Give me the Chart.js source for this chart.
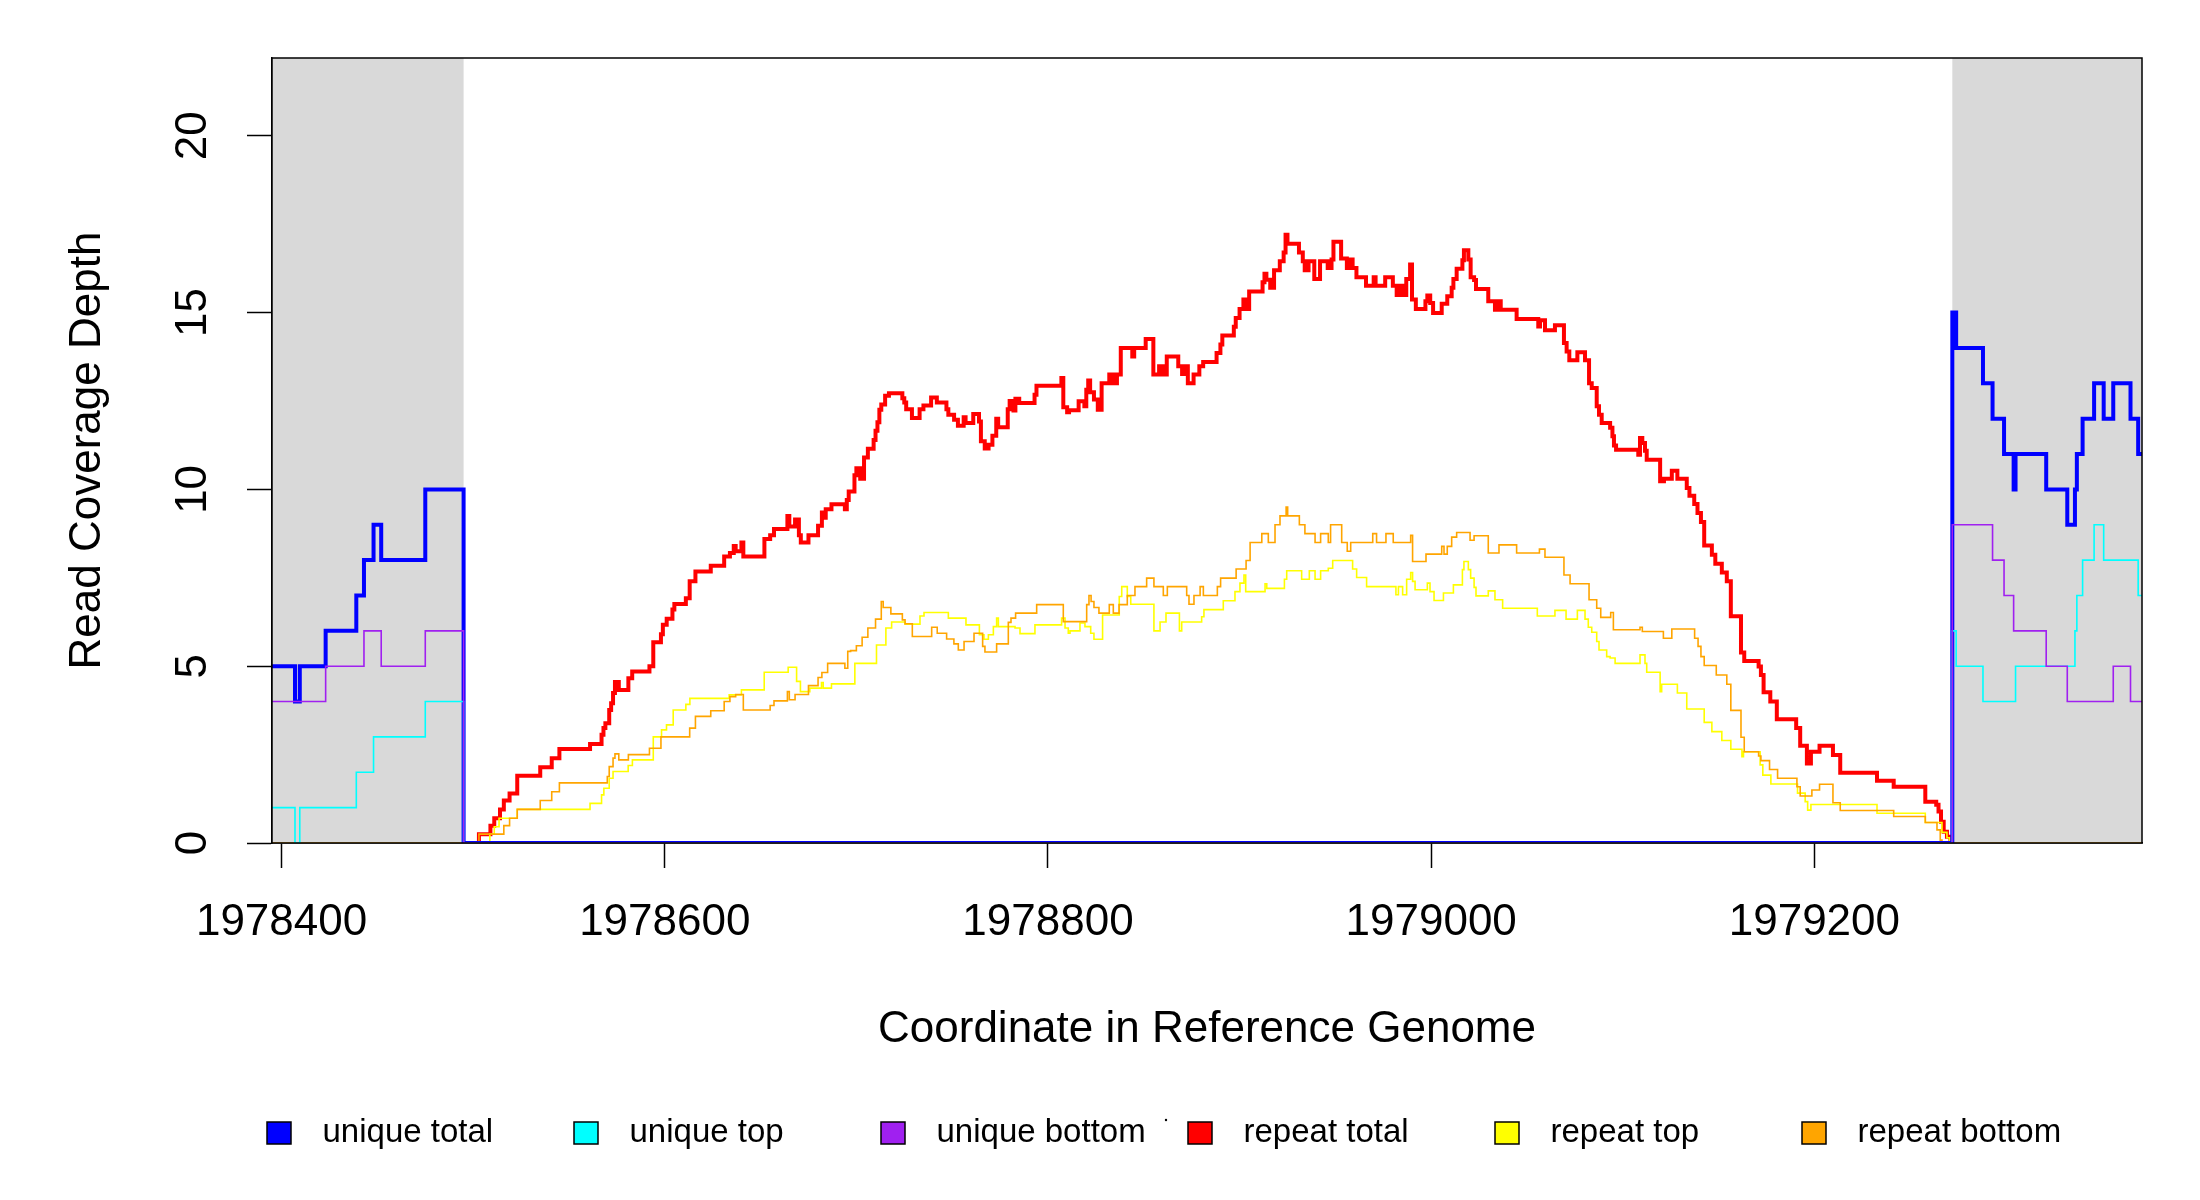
<!DOCTYPE html>
<html>
<head>
<meta charset="utf-8">
<title>Read Coverage Depth</title>
<script src="https://cdn.jsdelivr.net/npm/chart.js@4.4.1/dist/chart.umd.min.js"></script>
<style>
  html, body { margin: 0; padding: 0; background: #fff; }
  canvas { display: block; }
</style>
</head>
<body>
<canvas id="coverage" width="2200" height="1200"></canvas>
<script>
// axis setup
var xTicks = [1978400, 1978600, 1978800, 1979000, 1979200];
var yTicks = [0, 5, 10, 15, 20];
var xRange = [1978395, 1979371];
var yRange = [0, 22.2];
var shadedRegions = [[1978395, 1978495], [1979272, 1979371]];

var seriesNames = ["unique total", "unique top", "unique bottom", "repeat total", "repeat top", "repeat bottom"];
var seriesColors = ["#0000FF", "#00FFFF", "#A020F0", "#FF0000", "#FFFF00", "#FFA500"];

// each series: start position of a step and the depth from there on
var uniqueTotalPos = [1978395, 1978407, 1978409.5, 1978423, 1978439, 1978443, 1978448, 1978452, 1978475, 1978495,
  1979272, 1979274, 1979288, 1979293, 1979299, 1979304, 1979305, 1979321, 1979332, 1979336, 1979337, 1979340,
  1979346, 1979351, 1979356, 1979365, 1979369, 1979371];
var uniqueTotalDepth = [5, 4, 5, 6, 7, 8, 9, 8, 10, 0,
  15, 14, 13, 12, 11, 10, 11, 10, 9, 10, 11, 12,
  13, 12, 13, 12, 11, 11];

var uniqueTopPos = [1978395, 1978407, 1978409.5, 1978439, 1978448, 1978475, 1978495,
  1979272, 1979274, 1979288, 1979305, 1979336, 1979337, 1979340, 1979346, 1979351, 1979369, 1979371];
var uniqueTopDepth = [1, 0, 1, 2, 3, 4, 0,
  6, 5, 4, 5, 6, 7, 8, 9, 8, 7, 7];

var uniqueBottomPos = [1978395, 1978423, 1978443, 1978452, 1978475, 1978495,
  1979272, 1979293, 1979299, 1979304, 1979321, 1979332, 1979356, 1979365, 1979371];
var uniqueBottomDepth = [4, 5, 6, 5, 6, 0,
  9, 8, 7, 6, 5, 4, 5, 4, 4];

var repeatTotalPos = [1978495, 1978503, 1978509, 1978511, 1978514, 1978516, 1978519, 1978523, 1978535, 1978541,
  1978545, 1978561, 1978567, 1978568, 1978569, 1978571, 1978572, 1978573, 1978574, 1978576,
  1978581, 1978583, 1978592, 1978594, 1978598, 1978599, 1978601, 1978604, 1978605, 1978611,
  1978613, 1978616, 1978624, 1978631, 1978634, 1978636, 1978637, 1978640, 1978641, 1978652,
  1978655, 1978657, 1978664, 1978665, 1978668, 1978670, 1978671, 1978675, 1978680, 1978682,
  1978683, 1978684, 1978687, 1978694, 1978695, 1978696, 1978699, 1978700, 1978702, 1978704,
  1978706, 1978709, 1978710, 1978711, 1978712, 1978713, 1978715, 1978717, 1978724, 1978725,
  1978726, 1978729, 1978733, 1978735, 1978739, 1978742, 1978747, 1978748, 1978751, 1978753,
  1978756, 1978757, 1978761, 1978764, 1978765, 1978767, 1978769, 1978771, 1978773, 1978774,
  1978779, 1978780, 1978782, 1978783, 1978785, 1978793, 1978794, 1978807, 1978808, 1978810,
  1978811, 1978816, 1978819, 1978820, 1978821, 1978822, 1978824, 1978826, 1978828, 1978832,
  1978834, 1978836, 1978838, 1978844, 1978845, 1978851, 1978855, 1978858, 1978860, 1978862,
  1978868, 1978870, 1978871, 1978873, 1978876, 1978879, 1978881, 1978888, 1978890, 1978891,
  1978897, 1978898, 1978900, 1978902, 1978903, 1978905, 1978912, 1978913, 1978914, 1978916,
  1978918, 1978921, 1978923, 1978924, 1978925, 1978931, 1978933, 1978934, 1978936, 1978939,
  1978942, 1978946, 1978948, 1978949, 1978953, 1978956, 1978958, 1978959, 1978961, 1978966,
  1978970, 1978971, 1978976, 1978980, 1978982, 1978983, 1978985, 1978987, 1978989, 1978990,
  1978992, 1978997, 1978998, 1978999.5, 1979001, 1979005.5, 1979008.4, 1979010.7, 1979011.6, 1979013.3,
  1979016.3, 1979017.1, 1979019.4, 1979020.6, 1979022.4, 1979023.4, 1979029.8, 1979033.3, 1979035.1, 1979036.3,
  1979044.6, 1979055.9, 1979056.8, 1979059.4, 1979064.6, 1979069.3, 1979070.7, 1979072.1, 1979076.3, 1979080.3,
  1979082.4, 1979083.8, 1979086.4, 1979087.6, 1979089, 1979093.4, 1979094.6, 1979095.4, 1979096.5, 1979108.1,
  1979109, 1979110.2, 1979111.6, 1979112.5, 1979119.5, 1979121.5, 1979125.6, 1979128.5, 1979133.4, 1979134.8,
  1979137.3, 1979139, 1979140.8, 1979142.5, 1979146.5, 1979148.3, 1979151.7, 1979154.3, 1979156.4, 1979161.7,
  1979163.4, 1979170.9, 1979172.1, 1979173.5, 1979177, 1979180.4, 1979190.5, 1979192.6, 1979196.1, 1979198.2,
  1979202.7, 1979209.7, 1979213.5, 1979232.7, 1979241.4, 1979257.9, 1979263.6, 1979264.8, 1979266.1, 1979267.5,
  1979269.2, 1979271, 1979272];
var repeatTotalDepth = [0, 0.25, 0.49, 0.7, 0.95, 1.2, 1.4, 1.9, 2.14, 2.4,
  2.66, 2.8, 3.06, 3.25, 3.39, 3.76, 3.95, 4.24, 4.55, 4.33,
  4.66, 4.85, 5.0, 5.68, 5.9, 6.17, 6.34, 6.6, 6.76, 6.92,
  7.4, 7.68, 7.84, 8.1, 8.2, 8.4, 8.25, 8.5, 8.1, 8.6,
  8.7, 8.88, 9.25, 8.95, 9.15, 8.7, 8.5, 8.7, 8.97, 9.35,
  9.2, 9.44, 9.58, 9.44, 9.7, 9.94, 10.4, 10.6, 10.3, 10.9,
  11.15, 11.4, 11.66, 11.9, 12.25, 12.4, 12.65, 12.72, 12.58, 12.46,
  12.27, 12.02, 12.27, 12.37, 12.6, 12.46, 12.27, 12.11, 11.97, 11.8,
  12.04, 11.88, 12.13, 11.92, 11.36, 11.16, 11.26, 11.52, 12.0, 11.76,
  12.27, 12.5, 12.23, 12.56, 12.44, 12.68, 12.93, 13.15, 12.32, 12.18,
  12.24, 12.49, 12.35, 12.82, 13.08, 12.75, 12.54, 12.25, 13.0, 13.25,
  13.0, 13.25, 14.0, 13.76, 14.0, 14.25, 13.25, 13.48, 13.25, 13.76,
  13.48, 13.26, 13.48, 13.0, 13.25, 13.48, 13.6, 13.86, 14.1, 14.35,
  14.6, 14.85, 15.1, 15.37, 15.1, 15.6, 15.86, 16.1, 15.93, 15.7,
  16.2, 16.45, 16.7, 17.2, 16.95, 16.7, 16.45, 16.2, 16.45, 15.95,
  16.45, 16.26, 16.5, 17.0, 16.53, 16.26, 16.5, 16.26, 16.0, 15.76,
  16.0, 15.76, 16.0, 15.76, 15.5, 15.76, 15.5, 15.95, 16.36, 15.37,
  15.1, 15.32, 15.48, 15.27, 14.99, 15.25, 15.46, 15.7, 15.95, 16.24,
  16.48, 16.76, 16.5, 16.0, 15.92, 15.67, 15.32, 15.08, 15.32, 15.08,
  14.82, 14.61, 14.78, 14.5, 14.64, 14.14, 13.9, 13.65, 13.88, 13.65,
  13.0, 12.87, 12.35, 12.11, 11.88, 11.74, 11.5, 11.24, 11.12, 10.98,
  11.45, 11.31, 11.09, 10.84, 10.23, 10.3, 10.53, 10.3, 10.04, 9.82,
  9.59, 9.33, 9.08, 8.41, 8.15, 7.9, 7.65, 7.4, 6.41, 5.39,
  5.15, 4.99, 4.75, 4.26, 4.0, 3.5, 3.25, 2.75, 2.25, 2.58,
  2.75, 2.49, 1.99, 1.76, 1.59, 1.17, 1.08, 0.89, 0.6, 0.32,
  0.18, 0, 0];

var repeatTopPos = [1978495, 1978508.7, 1978511, 1978513.5, 1978523, 1978561, 1978567, 1978568.2, 1978571, 1978573,
  1978580.9, 1978583.1, 1978594, 1978598.3, 1978600.9, 1978604.4, 1978611, 1978613.1, 1978633.6, 1978640,
  1978651.9, 1978664.4, 1978668.8, 1978670.8, 1978675.7, 1978681.8, 1978682.7, 1978687, 1978699.2, 1978710.5,
  1978715.4, 1978718.4, 1978725.4, 1978733.2, 1978735.3, 1978748, 1978757.2, 1978764.2, 1978766.6, 1978768.9,
  1978771.5, 1978773.2, 1978774.1, 1978782.8, 1978785.4, 1978793.2, 1978807.1, 1978808.9, 1978810.6, 1978811.5,
  1978816.7, 1978819.3, 1978822.3, 1978824, 1978828.5, 1978837.2, 1978838.5, 1978841.4, 1978843.2, 1978855.3,
  1978858.5, 1978861.6, 1978868.6, 1978869.8, 1978880.2, 1978881.4, 1978891.5, 1978897.6, 1978900.2, 1978902.3,
  1978903.2, 1978913.3, 1978914.2, 1978923.4, 1978924.6, 1978932.4, 1978936.4, 1978939.4, 1978942.3, 1978946.3,
  1978948.6, 1978959, 1978961.1, 1978966.3, 1978981.6, 1978982.9, 1978985.1, 1978987.2, 1978989.3, 1978990.3,
  1978991.6, 1978998, 1978999.4, 1979001.5, 1979006.4, 1979011.6, 1979016.3, 1979017.1, 1979019.4, 1979020.6,
  1979022.4, 1979023.4, 1979029.8, 1979033.3, 1979037.3, 1979055.4, 1979064.6, 1979070.4, 1979076.3, 1979080.3,
  1979082, 1979083.8, 1979086.4, 1979087.6, 1979091.6, 1979093.4, 1979096, 1979109, 1979111.6, 1979112.5,
  1979119.5, 1979120.3, 1979128.5, 1979133.4, 1979142.5, 1979146.5, 1979151.7, 1979156.4, 1979162.2, 1979163,
  1979171.7, 1979173.1, 1979177.3, 1979191.2, 1979195.2, 1979196.5, 1979198.2, 1979232.7, 1979257.9, 1979266.6,
  1979269.2, 1979270.6, 1979272];
var repeatTopDepth = [0, 0.25, 0.46, 0.7, 0.95, 1.12, 1.36, 1.55, 1.83, 2.02,
  2.19, 2.35, 3.0, 3.2, 3.34, 3.76, 3.92, 4.09, 4.19, 4.33,
  4.83, 4.97, 4.57, 4.28, 4.38, 4.54, 4.38, 4.5, 5.08, 5.6,
  6.08, 6.25, 6.19, 6.42, 6.52, 6.36, 6.17, 5.89, 5.76, 5.89,
  6.12, 6.36, 6.12, 6.08, 5.92, 6.17, 6.36, 6.08, 5.93, 6.0,
  6.22, 6.12, 5.93, 5.76, 6.45, 6.97, 7.25, 6.97, 6.75, 6.0,
  6.25, 6.5, 6.0, 6.25, 6.4, 6.6, 6.85, 7.11, 7.35, 7.58,
  7.11, 7.33, 7.2, 7.46, 7.7, 7.46, 7.7, 7.46, 7.7, 7.77,
  7.99, 7.75, 7.51, 7.25, 7.02, 7.25, 7.02, 7.46, 7.65, 7.4,
  7.16, 7.35, 7.11, 6.86, 7.07, 7.3, 7.73, 7.96, 7.73, 7.49,
  7.23, 6.99, 7.13, 6.88, 6.64, 6.42, 6.58, 6.33, 6.58, 6.33,
  6.1, 5.96, 5.7, 5.46, 5.27, 5.23, 5.08, 5.32, 5.08, 4.83,
  4.28, 4.49, 4.24, 3.79, 3.41, 3.15, 2.9, 2.65, 2.44, 2.58,
  2.21, 1.92, 1.67, 1.41, 1.17, 0.93, 1.09, 0.84, 0.58, 0.3,
  0.15, 0, 0];

var repeatBottomPos = [1978395, 1978503, 1978516, 1978519, 1978523, 1978535, 1978541, 1978545, 1978570, 1978571,
  1978573, 1978574, 1978576, 1978581, 1978592, 1978598, 1978613, 1978616, 1978624, 1978631,
  1978634, 1978637, 1978641, 1978655, 1978657, 1978664, 1978665, 1978668, 1978675, 1978680,
  1978682, 1978685, 1978694, 1978695.5, 1978697, 1978700, 1978703, 1978706, 1978710, 1978713,
  1978714, 1978718, 1978724, 1978725.4, 1978729.2, 1978739.3, 1978742.2, 1978747.1, 1978750.9, 1978753.2,
  1978756.2, 1978761.4, 1978765.9, 1978767.1, 1978773.2, 1978779.3, 1978780.7, 1978783.1, 1978794.1, 1978808,
  1978820.2, 1978821.4, 1978822.5, 1978824, 1978826.6, 1978832, 1978834.1, 1978837.1, 1978841.4, 1978845.4,
  1978851.5, 1978855.3, 1978860.2, 1978862.3, 1978872.4, 1978873.6, 1978876.2, 1978879.4, 1978881.1, 1978888.4,
  1978890.1, 1978898.2, 1978903.4, 1978905.5, 1978911.6, 1978915, 1978918.5, 1978921.1, 1978924.3, 1978925.1,
  1978931.2, 1978934.1, 1978939.4, 1978942.3, 1978946.3, 1978947.5, 1978953.3, 1978956.2, 1978958, 1978969.5,
  1978971.5, 1978976.4, 1978980.2, 1978989.3, 1978990.3, 1978997.3, 1979005.5, 1979006.7, 1979008.4, 1979010.7,
  1979013.3, 1979020.3, 1979022.4, 1979029.8, 1979035.4, 1979044.6, 1979056.5, 1979059.4, 1979069.3, 1979072.5,
  1979082.4, 1979086.4, 1979088.5, 1979093.7, 1979095.1, 1979109, 1979110.2, 1979121.2, 1979125.6, 1979137.5,
  1979139.3, 1979140.8, 1979142.5, 1979148.8, 1979154.3, 1979156.4, 1979161.7, 1979163.4, 1979170.9, 1979172.1,
  1979176.6, 1979180.8, 1979190.9, 1979192.6, 1979198.7, 1979202.7, 1979209.7, 1979213.5, 1979241.4, 1979257.9,
  1979264, 1979265.7, 1979266.6, 1979371];
var repeatBottomDepth = [0, 0.25, 0.49, 0.7, 0.95, 1.2, 1.45, 1.7, 1.88, 2.16,
  2.4, 2.52, 2.35, 2.5, 2.68, 3.0, 3.25, 3.58, 3.74, 4.0,
  4.14, 4.2, 3.76, 3.89, 4.02, 4.28, 4.05, 4.2, 4.45, 4.68,
  4.82, 5.08, 4.94, 5.42, 5.44, 5.58, 5.82, 6.08, 6.33, 6.83,
  6.66, 6.48, 6.31, 6.2, 5.84, 6.1, 5.93, 5.77, 5.63, 5.46,
  5.7, 5.93, 5.56, 5.4, 5.63, 6.24, 6.36, 6.5, 6.74, 6.26,
  6.74, 7.0, 6.83, 6.66, 6.5, 6.74, 6.5, 6.74, 7.0, 7.25,
  7.49, 7.25, 7.0, 7.25, 7.0, 6.75, 7.0, 7.25, 7.0, 7.25,
  7.49, 7.75, 7.99, 8.5, 8.75, 8.5, 9.0, 9.25, 9.5, 9.25,
  9.0, 8.75, 8.5, 8.75, 8.5, 9.0, 8.5, 8.25, 8.5, 8.75,
  8.5, 8.75, 8.5, 8.7, 7.96, 8.17, 8.39, 8.17, 8.39, 8.65,
  8.78, 8.56, 8.69, 8.2, 8.43, 8.2, 8.31, 8.08, 7.58, 7.33,
  6.88, 6.64, 6.38, 6.52, 6.03, 6.1, 5.98, 5.79, 6.05, 5.79,
  5.56, 5.27, 5.02, 4.75, 4.49, 3.75, 2.99, 2.58, 2.46, 2.33,
  2.08, 1.83, 1.59, 1.33, 1.5, 1.66, 1.14, 0.92, 0.75, 0.58,
  0.37, 0.08, 0, 0];

var seriesPos = [uniqueTotalPos, uniqueTopPos, uniqueBottomPos, repeatTotalPos, repeatTopPos, repeatBottomPos];
var seriesDepth = [uniqueTotalDepth, uniqueTopDepth, uniqueBottomDepth, repeatTotalDepth, repeatTopDepth, repeatBottomDepth];
var lineWidths = [4, 1.6, 1.6, 4, 1.6, 1.6];
// Chart.js paints the lowest order last: unique lines sit over the repeat lines
var drawOrder = [2, 1, 0, 5, 4, 3];

var fontFamily = "'Liberation Sans', Arial, sans-serif";
Chart.defaults.font.family = fontFamily;
Chart.defaults.color = "#000";

function toPoints(pos, depth) {
	var pts = [];
	for (var i = 0; i < pos.length; i++) {
		pts.push({ x: pos[i], y: depth[i] });
	}
	return pts;
}

var datasets = seriesNames.map(function (name, i) {
	return {
		label: name,
		data: toPoints(seriesPos[i], seriesDepth[i]),
		borderColor: seriesColors[i],
		backgroundColor: seriesColors[i],
		borderWidth: lineWidths[i],
		stepped: true,
		pointRadius: 0,
		fill: false,
		clip: 0,
		order: drawOrder[i]
	};
});

// grey flanking regions behind the lines
var shadePlugin = {
	id: "shade",
	beforeDatasetsDraw: function (chart) {
		var ctx = chart.ctx, area = chart.chartArea, xs = chart.scales.x;
		ctx.save();
		ctx.fillStyle = "#D9D9D9";
		shadedRegions.forEach(function (r) {
			var a = xs.getPixelForValue(r[0]), b = xs.getPixelForValue(r[1]);
			ctx.fillRect(a, area.top, b - a, area.bottom - area.top);
		});
		ctx.restore();
	}
};

// box round the plot and the legend row under it
var frameAndLegend = {
	id: "frameAndLegend",
	afterDraw: function (chart) {
		var ctx = chart.ctx, area = chart.chartArea;
		ctx.save();
		ctx.strokeStyle = "#000";
		ctx.lineWidth = 1.5;
		ctx.strokeRect(area.left, area.top, area.right - area.left, area.bottom - area.top);

		var firstX = 279, step = 307, rowY = 1133, boxW = 24, boxH = 22;
		ctx.font = "33px " + fontFamily;
		ctx.textBaseline = "middle";
		ctx.textAlign = "left";
		seriesNames.forEach(function (name, i) {
			var cx = firstX + i * step;
			ctx.fillStyle = seriesColors[i];
			ctx.fillRect(cx - boxW / 2, rowY - boxH / 2, boxW, boxH);
			ctx.lineWidth = 1.5;
			ctx.strokeStyle = "#000";
			ctx.strokeRect(cx - boxW / 2, rowY - boxH / 2, boxW, boxH);
			ctx.fillStyle = "#000";
			ctx.fillText(name, cx + 43.5, rowY);
		});
		// stray dot that sits above the legend row
		ctx.beginPath();
		ctx.arc(1166, 1120, 1.2, 0, Math.PI * 2);
		ctx.fill();
		ctx.restore();
	}
};

new Chart(document.getElementById("coverage"), {
	type: "line",
	data: { datasets: datasets },
	plugins: [shadePlugin, frameAndLegend],
	options: {
		responsive: false,
		animation: false,
		devicePixelRatio: 1,
		layout: { padding: { left: 0, right: 58, top: 58, bottom: 117 } },
		plugins: {
			legend: { display: false },
			tooltip: { enabled: false }
		},
		scales: {
			x: {
				type: "linear",
				min: xRange[0],
				max: xRange[1],
				afterBuildTicks: function (scale) {
					scale.ticks = xTicks.map(function (v) { return { value: v }; });
				},
				afterFit: function (scale) { scale.height = 240; },
				grid: { drawOnChartArea: false, drawTicks: true, tickLength: 25, tickWidth: 1.5, color: "#000" },
				border: { display: true, color: "#000", width: 1.5 },
				ticks: {
					font: { size: 44 },
					color: "#000",
					padding: 28,
					maxRotation: 0,
					autoSkip: false,
					callback: function (v) { return String(v); }
				},
				title: {
					display: true,
					text: "Coordinate in Reference Genome",
					font: { size: 44 },
					color: "#000",
					padding: { top: 0, bottom: 27 }
				}
			},
			y: {
				type: "linear",
				min: yRange[0],
				max: yRange[1],
				afterBuildTicks: function (scale) {
					scale.ticks = yTicks.map(function (v) { return { value: v }; });
				},
				afterFit: function (scale) { scale.width = 272; },
				grid: { drawOnChartArea: false, drawTicks: true, tickLength: 25, tickWidth: 1.5, color: "#000" },
				border: { display: true, color: "#000", width: 1.5 },
				ticks: {
					font: { size: 44 },
					color: "#000",
					padding: 29,
					minRotation: 90,
					maxRotation: 90,
					crossAlign: "center",
					callback: function (v) { return String(v); }
				},
				title: {
					display: true,
					text: "Read Coverage Depth",
					font: { size: 44 },
					color: "#000",
					padding: { top: 61, bottom: 0 }
				}
			}
		}
	}
});
</script>
</body>
</html>
